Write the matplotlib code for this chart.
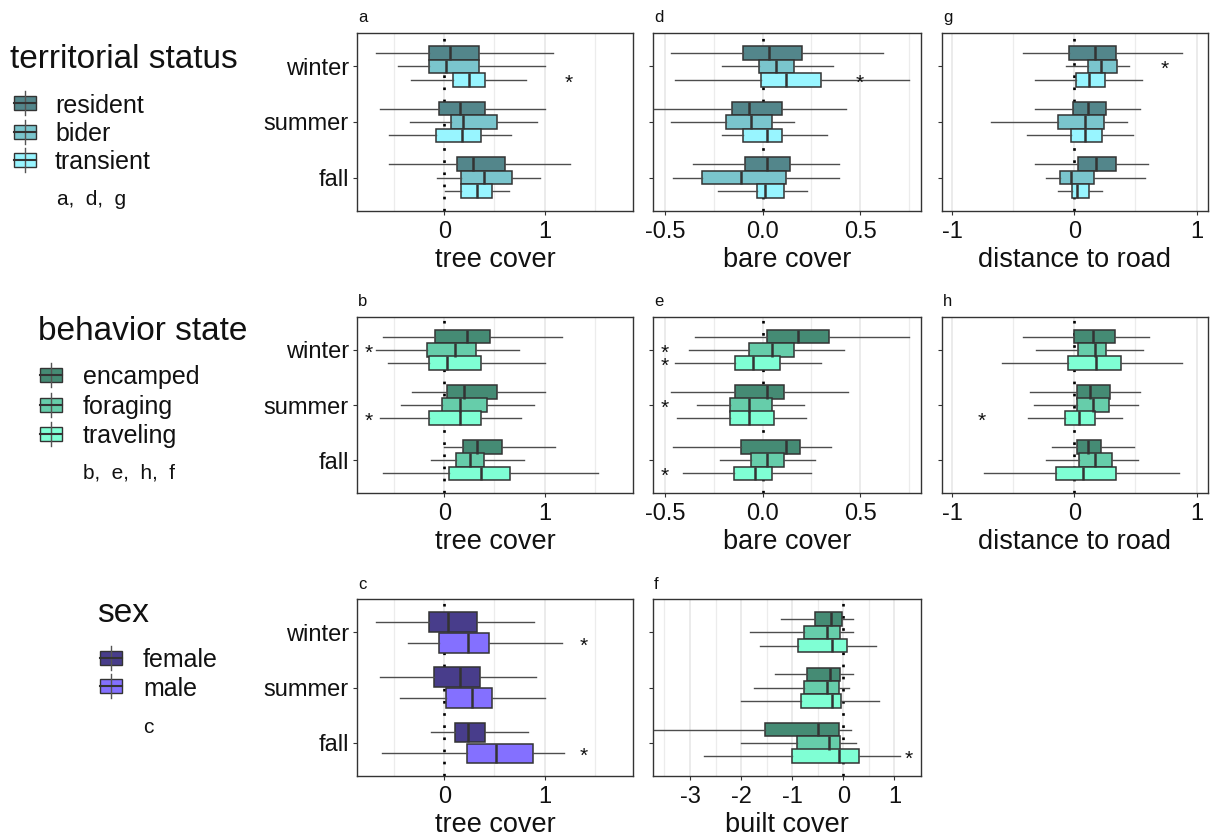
import matplotlib
matplotlib.use("Agg")
import matplotlib.pyplot as plt
from matplotlib.patches import Rectangle
from matplotlib.lines import Line2D

plt.rcParams["font.family"] = ["Liberation Sans", "DejaVu Sans"]
plt.rcParams["axes.unicode_minus"] = False

# ---------------------------------------------------------------- data
SEASONS = ["winter", "summer", "fall"]
TERRITORIAL = ["resident", "bider", "transient"]
BEHAVIOR = ["encamped", "foraging", "traveling"]
SEX = ["female", "male"]

TERR_COLORS = ["#53868B", "#7AC5CD", "#98F5FF"]
BEH_COLORS = ["#458B74", "#66CDAA", "#7FFFD4"]
SEX_COLORS = ["#483D8B", "#8470FF"]

# each entry: season -> group -> [whisker low, q1, median, q3, whisker high]
tree_territorial = [
    [[-0.68, -0.15, 0.06, 0.35, 1.08], [-0.46, -0.15, 0.02, 0.35, 1.00], [-0.33, 0.09, 0.25, 0.41, 0.81]],
    [[-0.64, -0.05, 0.16, 0.41, 1.00], [-0.34, 0.07, 0.19, 0.52, 0.92], [-0.55, -0.08, 0.18, 0.37, 0.66]],
    [[-0.55, 0.13, 0.29, 0.60, 1.25], [-0.07, 0.17, 0.40, 0.67, 0.95], [0.01, 0.17, 0.33, 0.48, 0.64]],
]
bare_territorial = [
    [[-0.47, -0.10, 0.03, 0.20, 0.62], [-0.21, -0.02, 0.07, 0.16, 0.36], [-0.45, -0.01, 0.12, 0.30, 0.75]],
    [[-0.56, -0.16, -0.07, 0.10, 0.43], [-0.47, -0.19, -0.06, 0.05, 0.16], [-0.21, -0.10, 0.02, 0.10, 0.33]],
    [[-0.36, -0.09, 0.02, 0.14, 0.39], [-0.46, -0.31, -0.11, 0.12, 0.39], [-0.23, -0.03, 0.01, 0.11, 0.23]],
]
road_territorial = [
    [[-0.42, -0.04, 0.17, 0.34, 0.88], [-0.07, 0.11, 0.22, 0.35, 0.45], [-0.32, 0.01, 0.12, 0.25, 0.55]],
    [[-0.32, -0.01, 0.11, 0.26, 0.54], [-0.68, -0.13, 0.09, 0.24, 0.43], [-0.39, -0.03, 0.09, 0.23, 0.48]],
    [[-0.32, 0.03, 0.18, 0.34, 0.60], [-0.23, -0.12, -0.03, 0.16, 0.58], [-0.13, -0.02, 0.02, 0.12, 0.23]],
]
tree_behavior = [
    [[-0.61, -0.09, 0.23, 0.46, 1.17], [-0.68, -0.17, 0.11, 0.32, 0.74], [-0.56, -0.15, 0.03, 0.37, 1.00]],
    [[-0.32, 0.03, 0.20, 0.52, 1.00], [-0.43, -0.02, 0.16, 0.43, 0.89], [-0.64, -0.15, 0.16, 0.37, 0.76]],
    [[0.00, 0.19, 0.33, 0.57, 1.10], [-0.13, 0.12, 0.26, 0.40, 0.79], [-0.61, 0.05, 0.37, 0.65, 1.53]],
]
bare_behavior = [
    [[-0.35, 0.02, 0.18, 0.34, 0.75], [-0.38, -0.07, 0.05, 0.16, 0.42], [-0.45, -0.14, -0.05, 0.09, 0.30]],
    [[-0.47, -0.14, 0.02, 0.11, 0.44], [-0.34, -0.17, -0.07, 0.05, 0.21], [-0.44, -0.17, -0.07, 0.06, 0.22]],
    [[-0.46, -0.11, 0.12, 0.19, 0.35], [-0.22, -0.06, 0.02, 0.11, 0.27], [-0.41, -0.15, -0.04, 0.05, 0.25]],
]
road_behavior = [
    [[-0.42, 0.00, 0.15, 0.33, 0.61], [-0.31, 0.03, 0.17, 0.26, 0.56], [-0.59, -0.05, 0.18, 0.38, 0.88]],
    [[-0.36, 0.02, 0.13, 0.29, 0.54], [-0.33, 0.02, 0.15, 0.28, 0.52], [-0.38, -0.08, 0.04, 0.17, 0.39]],
    [[-0.18, 0.02, 0.11, 0.22, 0.49], [-0.23, 0.04, 0.17, 0.31, 0.52], [-0.74, -0.15, 0.07, 0.34, 0.86]],
]
built_behavior = [
    [[-1.22, -0.56, -0.24, -0.03, 0.18], [-1.82, -0.76, -0.31, -0.06, 0.18], [-1.64, -0.88, -0.22, 0.07, 0.64]],
    [[-1.34, -0.72, -0.27, -0.06, 0.18], [-1.75, -0.76, -0.31, -0.08, 0.11], [-2.00, -0.82, -0.22, -0.04, 0.69]],
    [[-3.70, -1.54, -0.50, -0.08, 0.16], [-2.00, -0.91, -0.29, -0.07, 0.25], [-2.73, -1.01, -0.09, 0.31, 1.10]],
]
tree_sex = [
    [[-0.68, -0.15, 0.04, 0.33, 0.89], [-0.36, -0.05, 0.24, 0.45, 1.17]],
    [[-0.64, -0.10, 0.16, 0.36, 0.91], [-0.44, 0.02, 0.28, 0.48, 1.00]],
    [[-0.13, 0.11, 0.24, 0.41, 0.83], [-0.62, 0.23, 0.51, 0.88, 1.19]],
]

# significance markers: (season index, group index, x position)
stars_a = [(0, 2, 1.24)]
stars_d = [(0, 2, 0.50)]
stars_g = [(0, 1, 0.74)]
stars_b = [(0, 1, -0.75), (1, 2, -0.75)]
stars_e = [(0, 1, -0.505), (0, 2, -0.505), (1, 1, -0.505), (2, 2, -0.505)]
stars_h = [(1, 2, -0.76)]
stars_c = [(0, 1, 1.39), (2, 1, 1.39)]
stars_f = [(2, 2, 1.28)]

SEASON_Y = [3, 2, 1]

# ---------------------------------------------------------------- figure
W, H = 1214, 838
fig = plt.figure(figsize=(W / 100, H / 100), dpi=100)

COLS = [(357, 633), (652.7, 921), (941.7, 1208)]
ROWS = [(33, 211), (316.7, 493.3), (599.3, 776)]

EDGE = "#333333"


def px_axes(col, row):
    x0, x1 = COLS[col]
    y0, y1 = ROWS[row]
    return fig.add_axes([x0 / W, 1 - y1 / H, (x1 - x0) / W, (y1 - y0) / H])


def draw_panel(ax, stats, colors, xlim, major, major_labels, minor, xlabel,
               letter, show_ylabels, stars):
    n = len(colors)
    if n == 3:
        offsets, height = [0.24, 0.0, -0.24], 0.245
    else:
        offsets, height = [0.19, -0.19], 0.35

    ax.set_xlim(*xlim)
    ax.set_ylim(0.4, 3.6)
    ax.set_xticks(major)
    ax.set_xticklabels(major_labels)
    ax.set_xticks(minor, minor=True)
    ax.grid(True, axis="x", which="major", color="#E6E6E6", linewidth=1.1, zorder=0)
    ax.grid(True, axis="x", which="minor", color="#ECECEC", linewidth=0.9, zorder=0)
    ax.set_axisbelow(True)
    ax.tick_params(axis="x", which="minor", length=0)

    ax.axvline(0, color="black", linewidth=1.9, linestyle=(0, (1, 3.6)), zorder=1.5)

    for si in range(len(SEASONS)):
        for gi, (lo, q1, med, q3, hi) in enumerate(stats[si]):
            ax.bxp(
                [dict(med=med, q1=q1, q3=q3, whislo=lo, whishi=hi, fliers=[])],
                positions=[SEASON_Y[si] + offsets[gi]],
                widths=[height],
                orientation="horizontal",
                showcaps=False,
                showfliers=False,
                patch_artist=True,
                manage_ticks=False,
                boxprops=dict(facecolor=colors[gi], edgecolor=EDGE, linewidth=1.1),
                medianprops=dict(color=EDGE, linewidth=1.8),
                whiskerprops=dict(color="#4D4D4D", linewidth=1.0),
                zorder=3,
            )

    for si, gi, xs in stars:
        ax.text(xs, SEASON_Y[si] + offsets[gi] - 0.06, "*", ha="center", va="center",
                fontsize=15, color="#111111", zorder=5)

    ax.set_yticks(SEASON_Y)
    ax.set_yticklabels(SEASONS if show_ylabels else ["", "", ""])
    for sp in ax.spines.values():
        sp.set_color(EDGE)
        sp.set_linewidth(1.0)
    ax.tick_params(axis="both", which="major", direction="out", length=3,
                   width=0.8, color=EDGE, labelsize=17, labelcolor="#111111")
    ax.tick_params(axis="x", pad=4)
    ax.tick_params(axis="y", pad=3)
    ax.set_xlabel(xlabel, fontsize=19.5, color="#111111", labelpad=3)
    ax.annotate(letter, xy=(0, 1), xycoords="axes fraction", xytext=(1, 11),
                textcoords="offset points", fontsize=12, va="center", ha="left",
                color="#111111")


TREE = dict(xlim=(-0.87, 1.88), major=[0, 1], major_labels=["0", "1"],
            minor=[-0.5, 0.5, 1.5], xlabel="tree cover")
BARE = dict(xlim=(-0.565, 0.813), major=[-0.5, 0, 0.5],
            major_labels=["-0.5", "0.0", "0.5"], minor=[-0.25, 0.25, 0.75],
            xlabel="bare cover")
ROAD = dict(xlim=(-1.084, 1.093), major=[-1, 0, 1], major_labels=["-1", "0", "1"],
            minor=[-0.5, 0.5], xlabel="distance to road")
BUILT = dict(xlim=(-3.73, 1.52), major=[-3, -2, -1, 0, 1],
             major_labels=["-3", "-2", "-1", "0", "1"],
             minor=[-3.5, -2.5, -1.5, -0.5, 0.5], xlabel="built cover")

draw_panel(px_axes(0, 0), tree_territorial, TERR_COLORS, letter="a", show_ylabels=True, stars=stars_a, **TREE)
draw_panel(px_axes(1, 0), bare_territorial, TERR_COLORS, letter="d", show_ylabels=False, stars=stars_d, **BARE)
draw_panel(px_axes(2, 0), road_territorial, TERR_COLORS, letter="g", show_ylabels=False, stars=stars_g, **ROAD)
draw_panel(px_axes(0, 1), tree_behavior, BEH_COLORS, letter="b", show_ylabels=True, stars=stars_b, **TREE)
draw_panel(px_axes(1, 1), bare_behavior, BEH_COLORS, letter="e", show_ylabels=False, stars=stars_e, **BARE)
draw_panel(px_axes(2, 1), road_behavior, BEH_COLORS, letter="h", show_ylabels=False, stars=stars_h, **ROAD)
draw_panel(px_axes(0, 2), tree_sex, SEX_COLORS, letter="c", show_ylabels=True, stars=stars_c, **TREE)
draw_panel(px_axes(1, 2), built_behavior, BEH_COLORS, letter="f", show_ylabels=False, stars=stars_f, **BUILT)

# ---------------------------------------------------------------- legends
lax = fig.add_axes([0, 0, 1, 1], zorder=-1)
lax.set_xlim(0, W)
lax.set_ylim(H, 0)
lax.axis("off")


def legend_block(title, title_xy, names, colors, key_x, text_x, key_ys, note, note_xy):
    lax.text(title_xy[0], title_xy[1], title, fontsize=24, va="baseline", ha="left",
             color="#111111")
    kw, kh = 22, 14
    for name, col, ky in zip(names, colors, key_ys):
        cx = key_x + kw / 2
        lax.add_line(Line2D([cx, cx], [ky - kh / 2 - 5, ky + kh / 2 + 5],
                            color="#555555", linewidth=1.0))
        lax.add_patch(Rectangle((key_x, ky - kh / 2), kw, kh, facecolor=col,
                                edgecolor=EDGE, linewidth=1.0))
        lax.add_line(Line2D([key_x, key_x + kw], [ky, ky], color=EDGE, linewidth=1.5))
        lax.text(text_x, ky + 9.3, name, fontsize=18, va="baseline", ha="left",
                 color="#111111")
    lax.text(note_xy[0], note_xy[1], note, fontsize=15, va="baseline", ha="left",
             color="#111111")


legend_block("territorial status", (10, 68), TERRITORIAL, TERR_COLORS, 14, 55,
             [103.5, 131.8, 160.1], "a,  d,  g", (57, 205))
legend_block("behavior state", (38, 340), BEHAVIOR, BEH_COLORS, 40, 83,
             [375, 404.5, 434], "b,  e,  h,  f", (83, 478))
legend_block("sex", (97, 621.7), SEX, SEX_COLORS, 100, 143,
             [657.5, 686.3], "c", (143, 733))

fig.savefig("out.png", dpi=100, facecolor="white")
